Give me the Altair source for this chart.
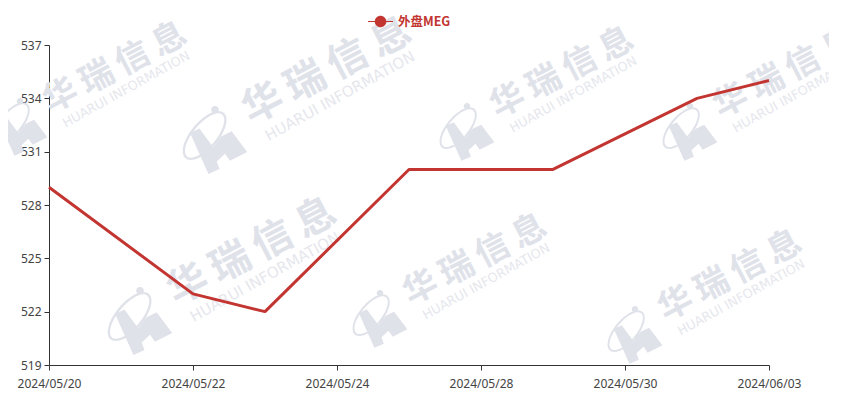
import altair as alt
import numpy as np
import pandas as pd

categories = ["2024/05/20", "2024/05/21", "2024/05/22", "2024/05/23", "2024/05/24", "2024/05/27",
              "2024/05/28", "2024/05/29", "2024/05/30", "2024/05/31", "2024/06/03"]
tick_labels = ["2024/05/20", "2024/05/22", "2024/05/24", "2024/05/28", "2024/05/30", "2024/06/03"]
y_ticks = [519, 522, 525, 528, 531, 534, 537]
dates = ["2024/05/20", "2024/05/22", "2024/05/23", "2024/05/27", "2024/05/29", "2024/05/31", "2024/06/03"]
values = [529, 523, 522, 530, 530, 534, 535]
series = "外盘MEG"

RED = "#c23531"
TXT = "#444444"
AXIS = "#333333"
WM = "#e0e2ea"
WM2 = "#e6e7ed"
LEFT, TOP = 41, 37


def poly(points):
    return "M" + " L".join(f"{x:.3f} {y:.3f}" for x, y in points) + " Z"


def ellipse(cx, cy, a, b, deg, reverse=False, n=48):
    t = np.linspace(0, 2 * np.pi, n, endpoint=False)
    if reverse:
        t = t[::-1]
    r = np.radians(deg)
    return poly([(cx + a * np.cos(q) * np.cos(r) - b * np.sin(q) * np.sin(r),
                  cy + a * np.cos(q) * np.sin(r) + b * np.sin(q) * np.cos(r)) for q in t])


# Decorative watermark logo, defined in the -1..1 symbol box
logo_path = " ".join([
    poly([(-.72, -.20), (-.45, -.33), (-.05, .21), (.19, -.11), (.48, -.25), (.93, .35), (.43, .60),
          (.29, .40), (.05, .62), (.13, .84), (-.19, .98)]),
    ellipse(-.30, -.13, .86, .40, -50),
    ellipse(-.30, -.13, .79, .33, -50, reverse=True),
    ellipse(0, -.875, .11, .11, 0),
])
# Legend glyph: thin line with a round dot
legend_path = " ".join([
    poly([(-1, -.04), (1, -.04), (1, .04), (-1, .04)]),
    ellipse(0, 0, .46, .46, 0),
])

# Watermark stamps: logo centre in page pixels, and scale
stamps = [(20, 127, .85), (215, 140, 1), (467, 132, .85), (690, 132, .85),
          (140, 321, 1), (380, 319, .85), (635, 335, .85)]

one = pd.DataFrame({"k": [0]})
layers = []
for lx, ly, s in stamps:
    layers.append(alt.Chart(one).mark_point(
        shape=logo_path, size=4800 * s * s, filled=True, fill=WM, strokeWidth=0, opacity=1
    ).encode(x=alt.value(lx - LEFT - 8), y=alt.value(ly - TOP - 8)))
    layers.append(alt.Chart(one).mark_text(
        text="华\u2009瑞\u2009信\u2009息", font="Noto Sans CJK SC", fontWeight="bold", fontSize=40 * s, angle=332.5,
        color=WM, align="center", baseline="middle"
    ).encode(x=alt.value(lx + 112 * s - LEFT - 8), y=alt.value(ly - 69 * s - TOP - 8)))
    layers.append(alt.Chart(one).mark_text(
        text="HUARUI INFORMATION", font="DejaVu Sans", fontSize=15 * s, angle=331, color=WM2,
        align="center", baseline="middle"
    ).encode(x=alt.value(lx + 125 * s - LEFT - 8), y=alt.value(ly - 44 * s - TOP - 8)))

df = pd.DataFrame({"date": dates, "value": values, "series": [series] * len(dates)})

line = alt.Chart(df).mark_line(strokeWidth=3, strokeJoin="bevel").encode(
    x=alt.X("date:O",
            scale=alt.Scale(type="point", domain=categories, padding=0),
            axis=alt.Axis(values=tick_labels, title=None, labelAngle=0, labelColor=TXT, labelFontSize=12,
                          labelFont="Noto Sans", labelPadding=8, tickSize=5, tickColor=AXIS, domainColor=AXIS,
                          grid=False, labelOverlap=False, labelFlush=False)),
    y=alt.Y("value:Q",
            scale=alt.Scale(domain=[519, 537], nice=False, zero=False),
            axis=alt.Axis(values=y_ticks, title=None, labelColor=TXT, labelFontSize=12, labelFont="Noto Sans",
                          labelPadding=3, tickSize=5, tickColor=AXIS, domainColor=AXIS, grid=False)),
    color=alt.Color("series:N",
                    scale=alt.Scale(domain=[series], range=[RED]),
                    legend=alt.Legend(title=None, orient="none", legendX=319, legendY=-36,
                                      symbolType=legend_path, symbolSize=625, symbolStrokeWidth=0,
                                      symbolFillColor=RED, symbolOpacity=1,
                                      labelColor=RED, labelFontSize=12.5, labelFontWeight="bold",
                                      labelFont="Noto Sans CJK SC", labelOffset=5)),
)

chart = alt.layer(*layers, line).properties(
    width=720, height=320,
    padding={"left": LEFT, "top": TOP, "right": 60, "bottom": 40},
    autosize=alt.AutoSizeParams(type="none"),
).configure_view(stroke=None)

chart.save("out.html", embed_options={"renderer": "svg", "actions": False})
